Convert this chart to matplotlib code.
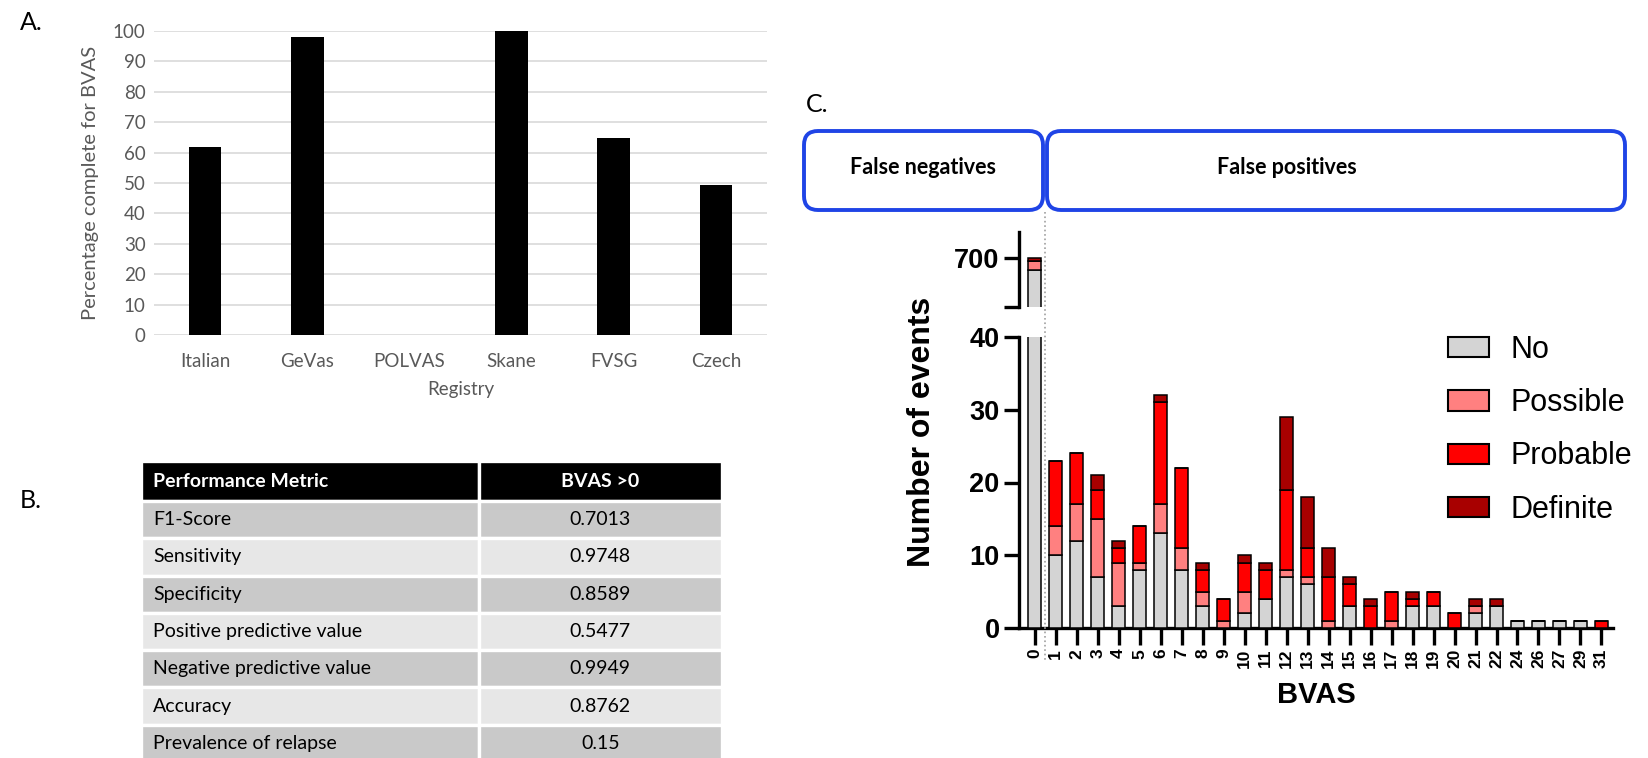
import numpy as np
import matplotlib
matplotlib.use("Agg")
import matplotlib.pyplot as plt
from matplotlib.patches import FancyBboxPatch, Patch

W, H = 1648, 758

# ---- panel A data ----
registries = ["Italian", "GeVas", "POLVAS", "Skane", "FVSG", "Czech"]
pct_complete = [61.7, 98.1, 0, 100, 64.7, 49.3]

# ---- panel B data ----
metrics = ["F1-Score", "Sensitivity", "Specificity", "Positive predictive value",
           "Negative predictive value", "Accuracy", "Prevalence of relapse"]
metric_values = ["0.7013", "0.9748", "0.8589", "0.5477", "0.9949", "0.8762", "0.15"]

# ---- panel C data ----
bvas = ["0", "1", "2", "3", "4", "5", "6", "7", "8", "9", "10", "11", "12", "13",
        "14", "15", "16", "17", "18", "19", "20", "21", "22", "24", "26", "27", "29", "31"]
no_relapse = [687, 10, 12, 7, 3, 8, 13, 8, 3, 0, 2, 4, 7, 6, 0, 3, 0, 0, 3, 3, 0, 2, 3, 1, 1, 1, 1, 0]
possible   = [10, 4, 5, 8, 6, 1, 4, 3, 2, 1, 3, 0, 1, 1, 1, 0, 0, 1, 0, 0, 0, 1, 0, 0, 0, 0, 0, 0]
probable   = [0, 9, 7, 4, 2, 5, 14, 11, 3, 3, 4, 4, 11, 4, 6, 3, 3, 4, 1, 2, 2, 0, 0, 0, 0, 0, 0, 1]
definite   = [3, 0, 0, 2, 1, 0, 1, 0, 1, 0, 1, 1, 10, 7, 4, 1, 1, 0, 1, 0, 0, 1, 1, 0, 0, 0, 0, 0]
series_names = ["No", "Possible", "Probable", "Definite"]
series_colors = ["#d4d4d4", "#ff8080", "#ff0000", "#a80000"]


def px_axes(left, top, right, bottom):
    # axes placed by pixel box on the 1648x758 canvas
    return fig.add_axes([left / W, 1 - bottom / H, (right - left) / W, (bottom - top) / H])


fig = plt.figure(figsize=(W / 100, H / 100), dpi=100)

# ================= A. completeness bar chart =================
grey_txt = "#595959"
axA = px_axes(154, 31, 767, 335)
axA.bar(np.arange(len(registries)), pct_complete, width=0.32, color="black", zorder=3)
axA.set_xlim(-0.5, len(registries) - 0.5)
axA.set_ylim(0, 100)
axA.set_yticks(np.arange(0, 101, 10))
axA.set_xticks(np.arange(len(registries)))
axA.set_xticklabels(registries)
axA.grid(axis="y", color="#d9d9d9", linewidth=1.2, zorder=0)
for s in axA.spines.values():
    s.set_visible(False)
axA.tick_params(length=0, labelsize=13.5, colors=grey_txt, labelfontfamily="Lato")
axA.tick_params(axis="y", pad=6)
axA.tick_params(axis="x", pad=13)
axA.set_xlabel("Registry", fontsize=13.5, color=grey_txt, family="Lato", labelpad=8)
axA.set_ylabel("Percentage complete for BVAS", fontsize=14.5, color=grey_txt,
               family="Lato", labelpad=10)

# ================= B. performance table =================
axB = px_axes(141, 461, 722, 762)
axB.axis("off")
tbl = axB.table(cellText=[[m, v] for m, v in zip(metrics, metric_values)],
                colLabels=["Performance Metric", "BVAS >0"],
                colWidths=[0.581, 0.419], bbox=[0, 0, 1, 1])
tbl.auto_set_font_size(False)
head_h = 40 / 301
row_h = (1 - head_h) / len(metrics)
for (r, c), cell in tbl.get_celld().items():
    cell.set_edgecolor("white")
    cell.set_linewidth(2.4)
    cell.set_height(head_h if r == 0 else row_h)
    txt = cell.get_text()
    txt.set_fontsize(14)
    txt.set_fontfamily("Lato")
    if r == 0:
        cell.set_facecolor("black")
        txt.set_color("white")
        txt.set_fontweight("bold")
    else:
        cell.set_facecolor("#c9c9c9" if r % 2 == 1 else "#e7e7e7")
    if c == 0:
        cell.set_text_props(ha="left")
        cell.PAD = 0.036
    else:
        cell.set_text_props(ha="center")

# ================= C. BVAS stacked bars with broken axis =================
arial = "Liberation Sans"
x = np.arange(len(bvas))
stack = [no_relapse, possible, probable, definite]

axU = px_axes(1019, 232, 1613, 307)
axL = px_axes(1019, 337, 1613, 628)
for ax in (axU, axL):
    bottom = np.zeros(len(bvas))
    for vals, name, col in zip(stack, series_names, series_colors):
        ax.bar(x, vals, bottom=bottom, width=0.6, color=col, edgecolor="black",
               linewidth=1.1, label=name, zorder=3)
        bottom += np.array(vals)
    ax.set_xlim(-0.75, len(bvas) - 0.45)
    for s in ("top", "right"):
        ax.spines[s].set_visible(False)
    ax.spines["left"].set_linewidth(2.4)
    ax.spines["bottom"].set_linewidth(2.4)
    ax.tick_params(axis="y", length=11, width=2.4, pad=3)

axU.set_ylim(650, 726)
axU.set_yticks([650, 700])
axU.set_yticklabels(["", "700"], fontsize=19.5, fontweight="bold", family=arial)
axU.spines["bottom"].set_visible(False)
axU.set_xticks([])

axL.set_ylim(0, 40)
axL.set_yticks(np.arange(0, 41, 10))
axL.set_yticklabels([str(v) for v in range(0, 41, 10)], fontsize=19.5,
                    fontweight="bold", family=arial)
axL.set_xticks(x)
axL.set_xticklabels(bvas, rotation=90, fontsize=12.5, fontweight="bold", family=arial)
axL.tick_params(axis="x", length=12, width=2.4, pad=3)
axL.set_xlabel("BVAS", fontsize=21, fontweight="bold", family=arial, labelpad=9)

fig.text(922 / W, 1 - 432 / H, "Number of events", rotation=90, ha="center",
         va="center", fontsize=23, fontweight="bold", family=arial)

handles = [Patch(facecolor=c, edgecolor="black", linewidth=1.5) for c in series_colors]
fig.legend(handles, series_names, loc="upper left",
           bbox_to_anchor=(1448 / W, 1 - 335 / H), frameon=False,
           prop={"family": arial, "size": 22}, handlelength=1.34,
           handleheight=0.65, handletextpad=0.7, labelspacing=0.76,
           borderpad=0, borderaxespad=0)

# ================= overlay: panel letters, category boxes =================
axO = fig.add_axes([0, 0, 1, 1], facecolor="none")
axO.set_xlim(0, W)
axO.set_ylim(H, 0)
axO.axis("off")
blue = "#1f44e6"
axO.add_patch(FancyBboxPatch((804, 131), 239, 79, boxstyle="round,pad=0,rounding_size=14",
                             fill=False, edgecolor=blue, linewidth=2.8))
axO.add_patch(FancyBboxPatch((1047, 131), 578, 79, boxstyle="round,pad=0,rounding_size=14",
                             fill=False, edgecolor=blue, linewidth=2.8))
axO.text(923, 167, "False negatives", ha="center", va="center", fontsize=15.5,
         fontweight="bold", family="Lato")
axO.text(1287, 167, "False positives", ha="center", va="center", fontsize=15.5,
         fontweight="bold", family="Lato")
axO.plot([1045, 1045], [212, 660], color="#a0a0a0", linestyle=":", linewidth=1.2)
for lbl, lx, ly in [("A.", 20, 22), ("B.", 20, 500), ("C.", 806, 104)]:
    axO.text(lx, ly, lbl, ha="left", va="center", fontsize=18, family="Lato")

fig.savefig("out.png", dpi=100)
